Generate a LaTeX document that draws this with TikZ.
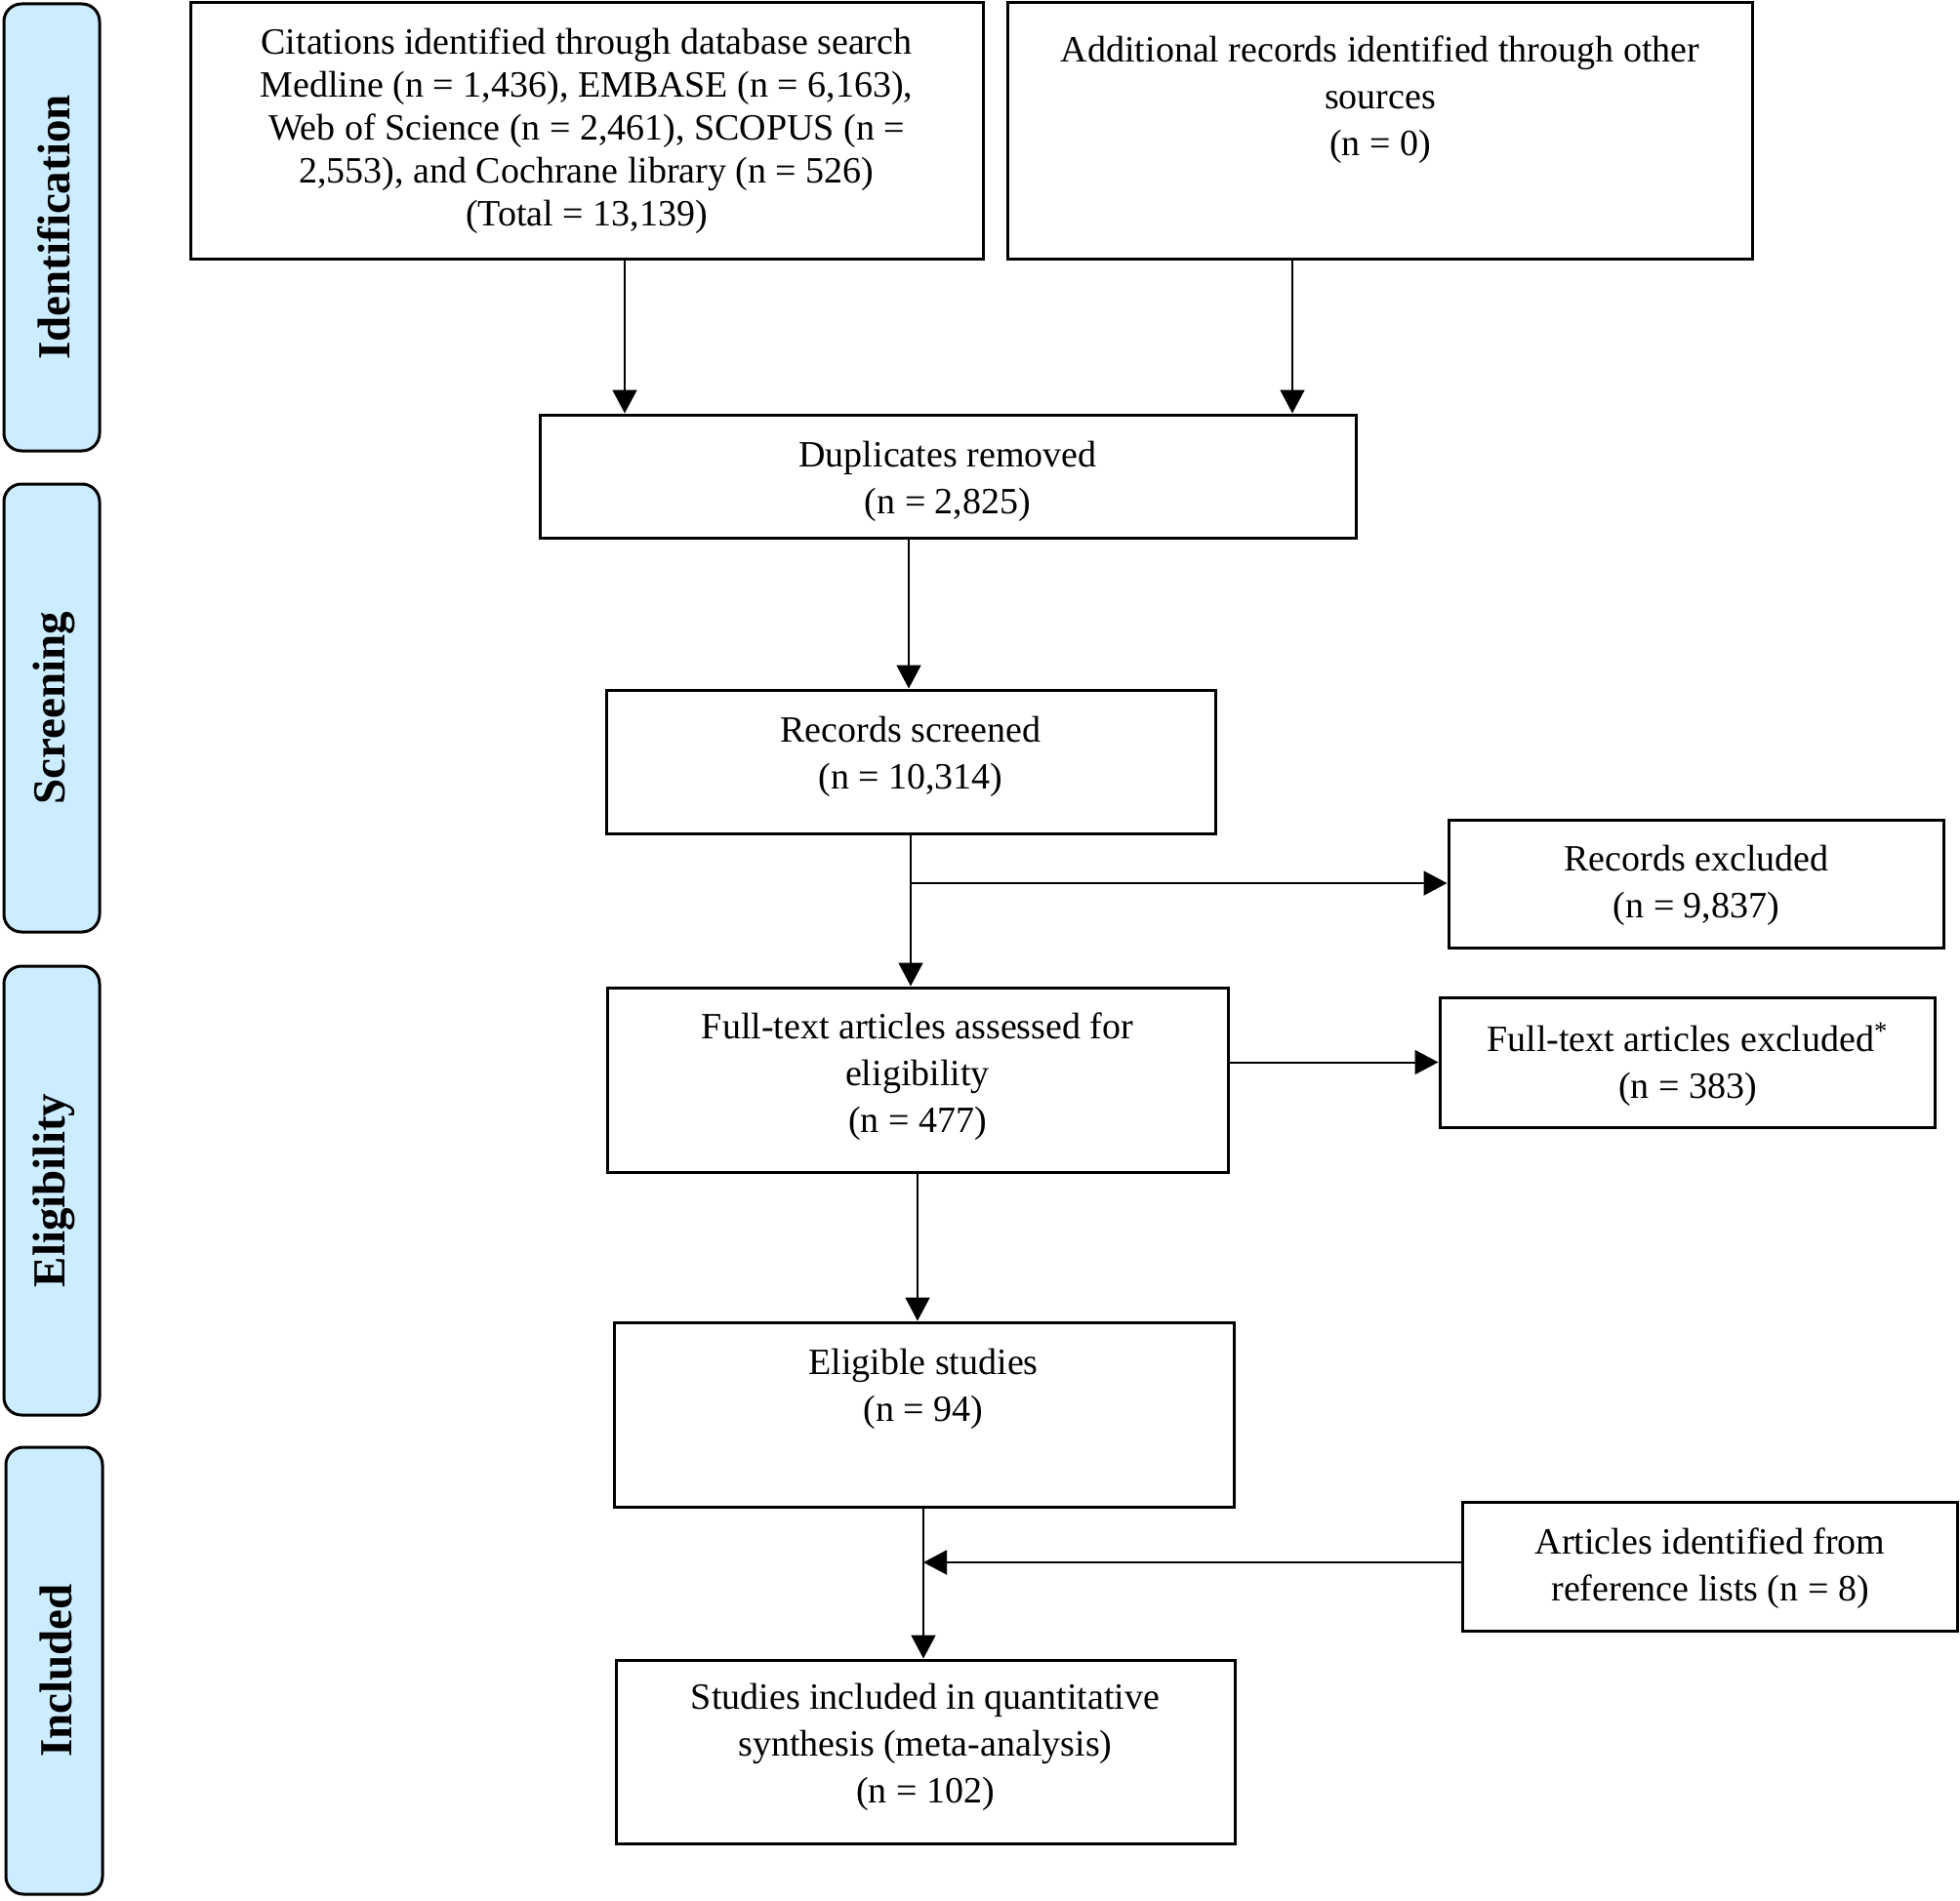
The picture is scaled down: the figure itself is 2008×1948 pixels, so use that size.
\documentclass[tikz,border=0pt]{standalone}
\usepackage{fontspec}
\setmainfont{Liberation Serif}
\usetikzlibrary{arrows.meta,fit,calc}
\definecolor{barblue}{RGB}{204,236,255}
\begin{document}
\begin{tikzpicture}[x=0.5pt,y=-0.5pt,
  box/.style={draw=black,line width=1.5pt,inner sep=0pt,fill=white},
  bar/.style={draw=black,line width=1.5pt,inner sep=0pt,fill=barblue,rounded corners=9pt},
  txt/.style={align=center,inner sep=0pt,font=\fontsize{19}{24}\selectfont},
  side/.style={rotate=90,inner sep=0pt,font=\fontsize{23.5}{28}\selectfont\bfseries},
  arr/.style={line width=1pt,-{Triangle[length=12pt,width=12.5pt]}},
  ln/.style={line width=1pt}]
\useasboundingbox (0,0) rectangle (2008,1948);
% side bars
\node[bar,fit={(4,4) (102,462)}] (sid) {};
\node[side] at ($(sid.center)+(2,0)$) {Identification};
\node[bar,fit={(4,496) (102,955)}] (ssc) {};
\node[side] at ($(ssc.center)+(2,0)$) {Screening};
\node[bar,fit={(4,990) (102,1450)}] (sel) {};
\node[side] at ($(sel.center)+(2,0)$) {Eligibility};
\node[bar,fit={(6,1483) (105,1941)}] (sin) {};
\node[side] at ($(sin.center)+(2,0)$) {Included};
% boxes
\node[box,fit={(195,3) (1007,265)}] (b1) {};
\node[txt,font=\fontsize{19}{22}\selectfont] at (601,134) {Citations identified through database search\\Medline (n = 1,436), EMBASE (n = 6,163),\\Web of Science (n = 2,461), SCOPUS (n =\\2,553), and Cochrane library (n = 526)\\(Total = 13,139)};
\node[box,fit={(1032,3) (1795,265)}] (b2) {};
\node[txt] at (1414,102) {Additional records identified through other\\sources\\(n = 0)};
\node[box,fit={(553,425) (1389,551)}] (b3) {};
\node[txt] at (971,493) {Duplicates removed\\(n = 2,825)};
\node[box,fit={(621,707) (1245,854)}] (b4) {};
\node[txt] at (933,775) {Records screened\\(n = 10,314)};
\node[box,fit={(1484,840) (1991,971)}] (b5) {};
\node[txt] at (1738,907) {Records excluded\\(n = 9,837)};
\node[box,fit={(622,1012) (1258,1201)}] (b6) {};
\node[txt] at (940,1103) {Full-text articles assessed for\\eligibility\\(n = 477)};
\node[box,fit={(1475,1022) (1982,1155)}] (b7) {};
\node[txt] at (1729,1091) {Full-text articles excluded\textsuperscript{*}\\(n = 383)};
\node[box,fit={(629,1355) (1264,1544)}] (b8) {};
\node[txt] at (946,1423) {Eligible studies\\(n = 94)};
\node[box,fit={(1498,1539) (2005,1671)}] (b9) {};
\node[txt] at (1752,1607) {Articles identified from\\reference lists (n = 8)};
\node[box,fit={(631,1701) (1265,1889)}] (b10) {};
\node[txt] at (948,1790) {Studies included in quantitative\\synthesis (meta-analysis)\\(n = 102)};
% connector columns
\coordinate (c1) at (640,0);
\coordinate (c2) at (1324,0);
\coordinate (c3) at (931,0);
\coordinate (c4) at (933,905);
\coordinate (c6) at (940,0);
\coordinate (c8) at (946,1601);
% connectors
\draw[arr] (b1.south -| c1) -- (b3.north -| c1);
\draw[arr] (b2.south -| c2) -- (b3.north -| c2);
\draw[arr] (b3.south -| c3) -- (b4.north -| c3);
\draw[arr] (b4.south -| c4) -- (b6.north -| c4);
\draw[arr] (c4) -- (b5.west |- c4);
\draw[arr] (b6.south -| c6) -- (b8.north -| c6);
\draw[arr] (b6.east |- b7.west) -- (b7.west);
\draw[arr] (b8.south -| c8) -- (b10.north -| c8);
\draw[arr] (b9.west |- c8) -- (c8);
\end{tikzpicture}
\end{document}
